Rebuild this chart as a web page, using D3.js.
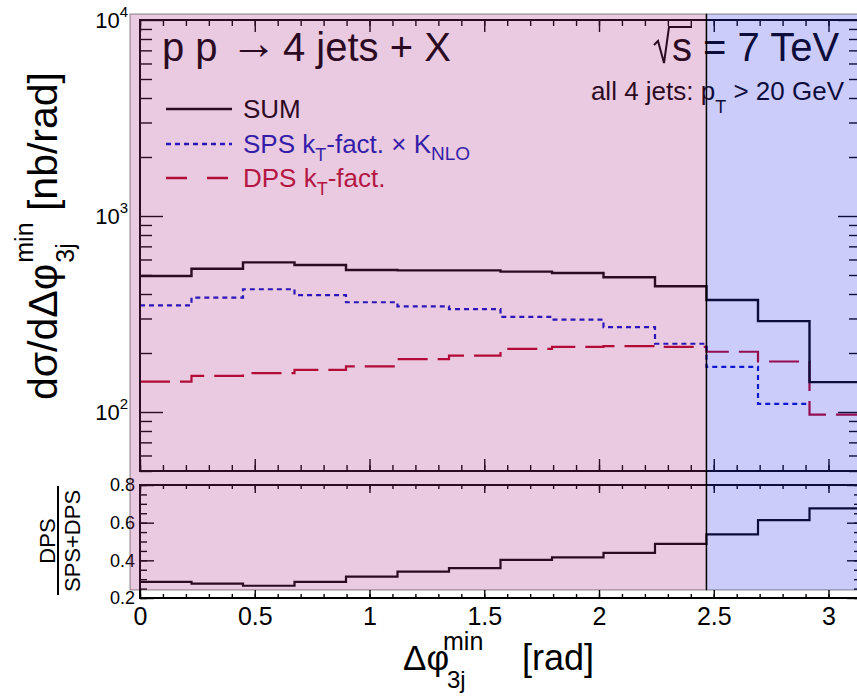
<!DOCTYPE html>
<html><head><meta charset="utf-8">
<script src="https://cdn.jsdelivr.net/npm/d3@7"></script>
<style>
body{margin:0;background:#fff}
svg{display:block}
text{font-family:"Liberation Sans",Arial,Helvetica,sans-serif}
</style>
</head><body>
<svg id="c" width="857" height="699"></svg>
<script>
// ---------------- data ----------------
const binEdges = [0, 0.2244, 0.4488, 0.6732, 0.8976, 1.1220, 1.3464, 1.5708, 1.7952, 2.0196, 2.2440, 2.4682, 2.6928, 2.9172, 3.1416];
const sumValues = [494, 538, 580, 562, 530, 528, 528, 520, 512, 487, 438, 373, 291, 142];
const spsValues = [350, 383, 423, 395, 363, 346, 335, 306, 296, 271, 223, 170, 110, 45];
const dpsValues = [143, 153, 158, 164, 171, 186, 194, 210, 215, 217, 215, 203, 181, 97];
const ratioValues = [0.286, 0.276, 0.265, 0.286, 0.313, 0.340, 0.359, 0.402, 0.416, 0.440, 0.487, 0.538, 0.614, 0.676];
const xTickLabels = [0, 0.5, 1, 1.5, 2, 2.5, 3];
const yUpperDecades = [100, 1000, 10000];
const yLowerTicks = [0.2, 0.4, 0.6, 0.8];
const regionSplit = 2.4682; // start of blue shaded region

// ---------------- layout ----------------
const W = 857, H = 699;
const X0 = 140, X1 = 861, UT = 20, UB = 471, LT = 485, LB = 598;
const svg = d3.select('#c');
svg.append('rect').attr('width', W).attr('height', H).attr('fill', '#fff');

const x = d3.scaleLinear().domain([0, Math.PI]).range([X0, X1]);
const yU = d3.scaleLog().domain([50, 10000]).range([UB, UT]);
const yL = d3.scaleLinear().domain([0.2, 0.8]).range([LB, LT]);

const defs = svg.append('defs');
defs.append('clipPath').attr('id', 'clipU').append('rect')
  .attr('x', X0).attr('y', UT).attr('width', X1 - X0).attr('height', UB - UT);
defs.append('clipPath').attr('id', 'clipL').append('rect')
  .attr('x', X0).attr('y', LT).attr('width', X1 - X0).attr('height', LB - LT);

function histPath(values, yScale, ymin) {
  const pts = [];
  values.forEach((v, i) => {
    if (v < ymin) { pts.push(null); return; }
    pts.push([binEdges[i], v], [binEdges[i + 1], v]);
  });
  return d3.line().defined(d => d).x(d => x(d[0])).y(d => yScale(d[1]))(pts);
}

const gU = svg.append('g').attr('clip-path', 'url(#clipU)');
gU.append('path').attr('d', histPath(dpsValues, yU, 50)).attr('fill', 'none')
  .attr('stroke', '#b4001c').attr('stroke-width', 2.2).attr('stroke-dasharray', '30,10');
gU.append('path').attr('d', histPath(spsValues, yU, 50)).attr('fill', 'none')
  .attr('stroke', '#0010c8').attr('stroke-width', 2.2).attr('stroke-dasharray', '5,4');
gU.append('path').attr('d', histPath(sumValues, yU, 50)).attr('fill', 'none')
  .attr('stroke', '#000').attr('stroke-width', 2.4);

const gL = svg.append('g').attr('clip-path', 'url(#clipL)');
gL.append('path').attr('d', histPath(ratioValues, yL, 0.2)).attr('fill', 'none')
  .attr('stroke', '#000').attr('stroke-width', 2.2);

// ---------------- axes ----------------
function styleAxis(g) {
  g.select('.domain').remove();
  g.selectAll('.tick line').attr('stroke', '#000').attr('stroke-width', 1.4);
  g.attr('font-family', null).attr('font-size', null);
  g.selectAll('.tick text').attr('fill', '#000');
}
const xMinor = d3.range(0, 31).map(i => i / 10);
const noLab = () => '';

// upper panel x ticks (bottom & top)
svg.append('g').attr('transform', `translate(0,${UB})`)
  .call(d3.axisBottom(x).tickValues(xMinor).tickSize(-6).tickFormat(noLab)).call(styleAxis);
svg.append('g').attr('transform', `translate(0,${UB})`)
  .call(d3.axisBottom(x).tickValues(xTickLabels).tickSize(-12).tickFormat(noLab)).call(styleAxis);
svg.append('g').attr('transform', `translate(0,${UT})`)
  .call(d3.axisTop(x).tickValues(xMinor).tickSize(-6).tickFormat(noLab)).call(styleAxis);
svg.append('g').attr('transform', `translate(0,${UT})`)
  .call(d3.axisTop(x).tickValues(xTickLabels).tickSize(-12).tickFormat(noLab)).call(styleAxis);

// upper panel y ticks (log)
const yMinor = yU.ticks().filter(v => !yUpperDecades.includes(v));
svg.append('g').attr('transform', `translate(${X0},0)`)
  .call(d3.axisLeft(yU).tickValues(yMinor).tickSize(-12).tickFormat(noLab)).call(styleAxis);
const yMajG = svg.append('g').attr('transform', `translate(${X0},0)`)
  .call(d3.axisLeft(yU).tickValues(yUpperDecades).tickSize(-23).tickPadding(12).tickFormat(noLab)).call(styleAxis);
yMajG.selectAll('.tick text').attr('font-size', 22).attr('dy', '0.36em')
  .each(function (d) {
    const t = d3.select(this);
    t.text(null);
    t.append('tspan').text('10');
    t.append('tspan').attr('font-size', 15).attr('dy', '-0.75em').text(Math.round(Math.log10(d)));
  });
svg.append('g').attr('transform', `translate(${X1},0)`)
  .call(d3.axisRight(yU).tickValues(yMinor).tickSize(-12).tickFormat(noLab)).call(styleAxis);
svg.append('g').attr('transform', `translate(${X1},0)`)
  .call(d3.axisRight(yU).tickValues(yUpperDecades).tickSize(-23).tickFormat(noLab)).call(styleAxis);

// lower panel x ticks
svg.append('g').attr('transform', `translate(0,${LB})`)
  .call(d3.axisBottom(x).tickValues(xMinor).tickSize(-4).tickFormat(noLab)).call(styleAxis);
const xLab = svg.append('g').attr('transform', `translate(0,${LB})`)
  .call(d3.axisBottom(x).tickValues(xTickLabels).tickSize(-8).tickPadding(9).tickFormat(d3.format('~g'))).call(styleAxis);
xLab.selectAll('.tick text').attr('font-size', 25);
svg.append('g').attr('transform', `translate(0,${LT})`)
  .call(d3.axisTop(x).tickValues(xMinor).tickSize(-4).tickFormat(noLab)).call(styleAxis);
svg.append('g').attr('transform', `translate(0,${LT})`)
  .call(d3.axisTop(x).tickValues(xTickLabels).tickSize(-8).tickFormat(noLab)).call(styleAxis);

// lower panel y ticks
const yLMinor = d3.range(0, 13).map(i => 0.2 + i * 0.05);
svg.append('g').attr('transform', `translate(${X0},0)`)
  .call(d3.axisLeft(yL).tickValues(yLMinor).tickSize(-7).tickFormat(noLab)).call(styleAxis);
const yLLab = svg.append('g').attr('transform', `translate(${X0},0)`)
  .call(d3.axisLeft(yL).tickValues(yLowerTicks).tickSize(-14).tickPadding(5).tickFormat(d3.format('.1f'))).call(styleAxis);
yLLab.selectAll('.tick text').attr('font-size', 18);
svg.append('g').attr('transform', `translate(${X1},0)`)
  .call(d3.axisRight(yL).tickValues(yLMinor).tickSize(-7).tickFormat(noLab)).call(styleAxis);
svg.append('g').attr('transform', `translate(${X1},0)`)
  .call(d3.axisRight(yL).tickValues(yLowerTicks).tickSize(-14).tickFormat(noLab)).call(styleAxis);

// frames
svg.append('rect').attr('x', X0).attr('y', UT).attr('width', X1 - X0).attr('height', UB - UT)
  .attr('fill', 'none').attr('stroke', '#000').attr('stroke-width', 2);
svg.append('rect').attr('x', X0).attr('y', LT).attr('width', X1 - X0).attr('height', LB - LT)
  .attr('fill', 'none').attr('stroke', '#000').attr('stroke-width', 2);

// ---------------- texts ----------------
svg.append('text').attr('x', 162).attr('y', 61).attr('font-size', 40).attr('fill', '#000').text('p p');
svg.append('text').attr('x', 230).attr('y', 59).attr('font-size', 47).attr('fill', '#000')
  .attr('font-family', '"DejaVu Sans", sans-serif').text('\u2192');
svg.append('text').attr('x', 283).attr('y', 61).attr('font-size', 40).attr('fill', '#000').text('4 jets + X');

svg.append('text').attr('x', 672).attr('y', 61).attr('font-size', 40).attr('fill', '#000')
  .text('s = 7 TeV');
svg.append('path').attr('d', 'M654,45 L658,41 L664,63 L669,27 L692,27')
  .attr('fill', 'none').attr('stroke', '#000').attr('stroke-width', 2);

const ptText = svg.append('text').attr('x', 844).attr('y', 100).attr('font-size', 26)
  .attr('text-anchor', 'end').attr('fill', '#000');
ptText.append('tspan').text('all 4 jets: p');
ptText.append('tspan').attr('font-size', 18).attr('dy', 13).text('T');
ptText.append('tspan').attr('dy', -13).text(' > 20 GeV');

// legend
const lg = svg.append('g');
lg.append('line').attr('x1', 166).attr('x2', 232).attr('y1', 109).attr('y2', 109)
  .attr('stroke', '#000').attr('stroke-width', 2.6);
lg.append('text').attr('x', 243).attr('y', 118).attr('font-size', 26).attr('fill', '#000').text('SUM');
lg.append('line').attr('x1', 166).attr('x2', 232).attr('y1', 144).attr('y2', 144)
  .attr('stroke', '#0010c8').attr('stroke-width', 2.6).attr('stroke-dasharray', '5,4');
const spsT = lg.append('text').attr('x', 243).attr('y', 153).attr('font-size', 26).attr('fill', '#0a1ab4');
spsT.append('tspan').text('SPS k');
spsT.append('tspan').attr('font-size', 18).attr('dy', 8).text('T');
spsT.append('tspan').attr('dy', -8).text('-fact. \u00d7 K');
spsT.append('tspan').attr('font-size', 19).attr('dy', 7).text('NLO');
lg.append('line').attr('x1', 166).attr('x2', 232).attr('y1', 178).attr('y2', 178)
  .attr('stroke', '#b4001c').attr('stroke-width', 2.6).attr('stroke-dasharray', '21,20');
const dpsT = lg.append('text').attr('x', 243).attr('y', 187).attr('font-size', 26).attr('fill', '#b8102c');
dpsT.append('tspan').text('DPS k');
dpsT.append('tspan').attr('font-size', 18).attr('dy', 8).text('T');
dpsT.append('tspan').attr('dy', -8).text('-fact.');

// y title (upper)
const yt = svg.append('g').attr('transform', 'translate(57,400) rotate(-90)');
const ytMain = yt.append('text').attr('x', 0).attr('y', 0).attr('font-size', 41).attr('fill', '#000')
  .text('d\u03c3/d\u0394\u03c6');
const wMain = ytMain.node().getComputedTextLength();
yt.append('text').attr('x', wMain + 1).attr('y', -24).attr('font-size', 25).attr('fill', '#000').text('min');
yt.append('text').attr('x', wMain + 1).attr('y', 17).attr('font-size', 25).attr('fill', '#000').text('3j');
yt.append('text').attr('x', 328).attr('y', 0).attr('font-size', 41).attr('text-anchor', 'end')
  .attr('fill', '#000').text('[nb/rad]');

// y title (lower) fraction
const ft = svg.append('g').attr('transform', 'translate(0,541) rotate(-90)');
ft.append('text').attr('x', 0).attr('y', 55).attr('font-size', 22).attr('text-anchor', 'middle')
  .attr('fill', '#000').text('DPS');
ft.append('line').attr('x1', -54).attr('x2', 55).attr('y1', 58).attr('y2', 58)
  .attr('stroke', '#000').attr('stroke-width', 2);
ft.append('text').attr('x', 0).attr('y', 80).attr('font-size', 22).attr('text-anchor', 'middle')
  .attr('fill', '#000').text('SPS+DPS');

// x title
svg.append('text').attr('x', 403).attr('y', 670).attr('font-size', 35).attr('fill', '#000').text('\u0394\u03c6');
svg.append('text').attr('x', 443).attr('y', 650).attr('font-size', 25).attr('fill', '#000').text('min');
svg.append('text').attr('x', 447).attr('y', 688).attr('font-size', 24).attr('fill', '#000').text('3j');
svg.append('text').attr('x', 522).attr('y', 670).attr('font-size', 36).attr('fill', '#000').text('[rad]');

// ---------------- shaded overlays ----------------
const xs = x(regionSplit);
svg.append('rect').attr('x', 130).attr('y', 14).attr('width', xs - 130).attr('height', 590 - 14)
  .attr('fill', 'rgb(171,43,135)').attr('fill-opacity', 0.25)
  .attr('stroke', 'rgba(0,0,0,0.45)').attr('stroke-width', 1);
svg.append('rect').attr('x', xs).attr('y', 14).attr('width', W + 20 - xs).attr('height', 590 - 14)
  .attr('fill', 'rgb(51,51,235)').attr('fill-opacity', 0.25)
  .attr('stroke', 'rgba(0,0,0,0.45)').attr('stroke-width', 1);
svg.append('line').attr('x1', xs).attr('x2', xs).attr('y1', 14).attr('y2', 590)
  .attr('stroke', '#000').attr('stroke-width', 1.5);
</script>
</body></html>
